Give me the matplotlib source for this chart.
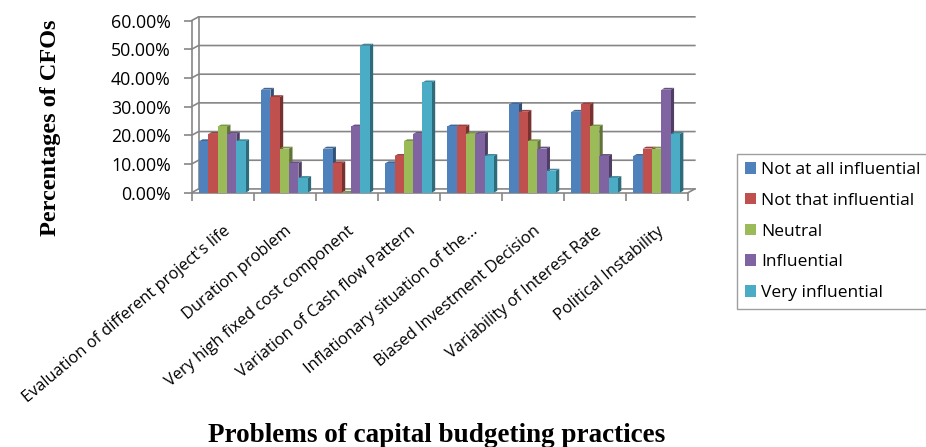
import numpy as np
import matplotlib
matplotlib.use('Agg')
import matplotlib.pyplot as plt
import matplotlib.ticker as ticker
from matplotlib.patches import Polygon, Patch
import matplotlib.colors as mcolors

# Datos
problemas = ["Evaluation of different project's life", "Duration problem",
             "Very high fixed cost component", "Variation of Cash flow Pattern",
             "Inflationary situation of the...", "Biased Investment Decision",
             "Variability of Interest Rate", "Political Instability"]
series = ["Not at all influential", "Not that influential", "Neutral",
          "Influential", "Very influential"]
nada_influyente = [17.95, 35.90, 15.38, 10.26, 23.08, 30.77, 28.21, 12.82]
poco_influyente = [20.51, 33.33, 10.26, 12.82, 23.08, 28.21, 30.77, 15.38]
neutral = [23.08, 15.38, 0.0, 17.95, 20.51, 17.95, 23.08, 15.38]
influyente = [20.51, 10.26, 23.08, 20.51, 20.51, 15.38, 12.82, 35.90]
muy_influyente = [17.95, 5.13, 51.28, 38.46, 12.82, 7.69, 5.13, 20.51]
yticks = [0, 10, 20, 30, 40, 50, 60]

colores = ['#4F81BD', '#C0504D', '#9BBB59', '#8064A2', '#4BACC6']
valores = [nada_influyente, poco_influyente, neutral, influyente, muy_influyente]

def oscurecer(c, f):
    r, g, b = mcolors.to_rgb(c)
    return (r * f, g * f, b * f)

fig = plt.figure(figsize=(9.26, 4.47), dpi=100)
ax = fig.add_axes([0.207, 0.569, 0.536, 0.385])

n = len(problemas)
ancho = 0.15
dx = 0.11   # profundidad 3D en x (datos)
dy = 1.3    # profundidad 3D en y (datos)

# pared del fondo: grillas desplazadas
for t in yticks:
    ax.plot([0, dx, n + dx], [t, t + dy, t + dy], color='#868686', lw=1.2, zorder=1, clip_on=False)
ax.plot([dx, dx], [dy, yticks[-1] + dy], color='#868686', lw=1.2, zorder=1, clip_on=False)
ax.plot([n, n + dx], [0, dy], color='#868686', lw=1.2, zorder=1, clip_on=False)

x = np.arange(n)
for k, (vals, col) in enumerate(zip(valores, colores)):
    izq = x + 0.12 + k * ancho
    barras = ax.bar(izq, vals, width=ancho, align='edge', color=col, zorder=3 + k * 0.01)
    for b in barras:
        x0 = b.get_x()
        x1 = x0 + b.get_width()
        h = b.get_height()
        lado = Polygon([(x1, 0), (x1 + dx * 0.5, dy * 0.5), (x1 + dx * 0.5, h + dy * 0.5), (x1, h)],
                       closed=True, facecolor=oscurecer(col, 0.62), edgecolor='none', zorder=2.9 + k * 0.01)
        tapa = Polygon([(x0, h), (x0 + dx * 0.5, h + dy * 0.5), (x1 + dx * 0.5, h + dy * 0.5), (x1, h)],
                       closed=True, facecolor=oscurecer(col, 0.8), edgecolor='none', zorder=2.9 + k * 0.01)
        ax.add_patch(lado)
        ax.add_patch(tapa)

ax.set_xlim(0, n)
ax.set_ylim(0, 60)
ax.set_yticks(yticks)
ax.yaxis.set_major_formatter(ticker.FuncFormatter(lambda v, pos: '{0:.2f}%'.format(v)))
ax.set_xticks(np.arange(n + 1))
ax.set_xticklabels([])
ax.set_xticks(x + 0.5, minor=True)
ax.set_xticklabels(problemas, minor=True, rotation=40, ha='right', va='top',
                   rotation_mode='anchor', fontsize=11.8, family='Open Sans')
ax.tick_params(axis='x', which='minor', length=0, pad=22)
ax.tick_params(axis='x', which='major', length=6, color='#868686', width=1.2, direction='out')
ax.tick_params(axis='y', length=6, color='#868686', width=1.2, direction='out', labelsize=12.8, pad=9)
for lab in ax.get_yticklabels():
    lab.set_family('Open Sans')

for s in ['top', 'right']:
    ax.spines[s].set_visible(False)
for s in ['left', 'bottom']:
    ax.spines[s].set_color('#868686')
    ax.spines[s].set_linewidth(1.2)
ax.patch.set_alpha(0)

fig.text(0.054, 0.714, 'Percentages of CFOs', rotation=90, ha='center', va='center',
         family='Liberation Serif', fontweight='bold', fontsize=17.5)
fig.text(0.471, 0.025, 'Problems of capital budgeting practices', ha='center', va='center',
         family='Liberation Serif', fontweight='bold', fontsize=19.5)

handles = [Patch(facecolor=c, edgecolor='none') for c in colores]
leg = fig.legend(handles, series, loc='upper left', bbox_to_anchor=(0.796, 0.655),
                 frameon=True, fancybox=False, prop={'family': 'Open Sans', 'size': 12.5},
                 handlelength=0.65, handleheight=0.65, handletextpad=0.3, labelspacing=0.85,
                 borderpad=0.45, borderaxespad=0)
leg.get_frame().set_edgecolor('#868686')
leg.get_frame().set_linewidth(1.0)

fig.savefig('out.png', dpi=100)
